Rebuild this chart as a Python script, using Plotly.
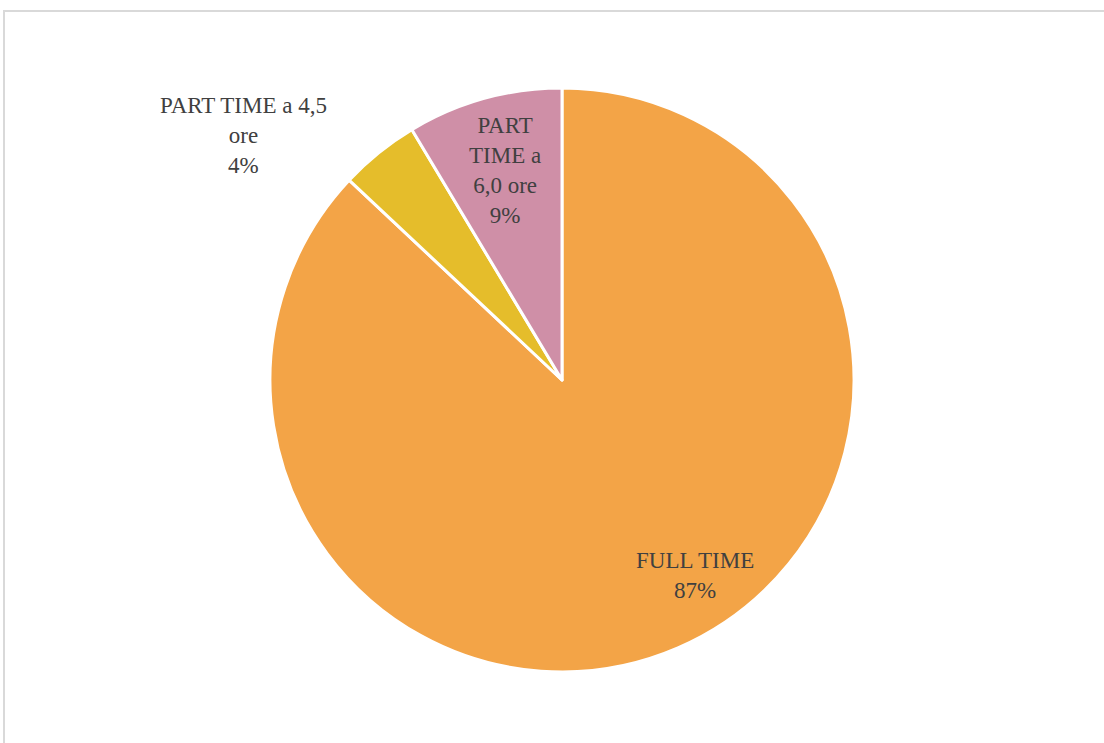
import plotly.graph_objects as go

labels = ["FULL TIME", "PART TIME a 4,5 ore", "PART TIME a 6,0 ore"]
values = [87.0, 4.4, 8.6]
label_text = ["FULL TIME<br>87%", "PART TIME a 4,5<br>ore<br>4%", "PART<br>TIME a<br>6,0 ore<br>9%"]
colors = ["#F3A447", "#E5BD2B", "#CF8FA7"]

W, H = 1104, 743
cx, cy, r = 562, 380, 292

fig = go.Figure(go.Pie(
    labels=labels, values=values, sort=False, direction="clockwise", rotation=0,
    marker=dict(colors=colors, line=dict(color="white", width=3)),
    textinfo="none", hoverinfo="label+percent", showlegend=False,
    domain=dict(x=[(cx - r) / W, (cx + r) / W], y=[1 - (cy + r) / H, 1 - (cy - r) / H]),
))

label_pos = [(695, 575), (243, 135), (505, 170)]
for txt, (x, y) in zip(label_text, label_pos):
    fig.add_annotation(x=x / W, y=1 - y / H, xref="paper", yref="paper", text=txt,
                       showarrow=False, xanchor="center", yanchor="middle",
                       font=dict(family="Liberation Serif", size=23, color="#404040"))

fig.add_shape(type="rect", xref="paper", yref="paper",
              x0=4 / W, x1=1.02, y0=-0.02, y1=1 - 11 / H,
              line=dict(color="#D9D9D9", width=2), fillcolor="rgba(0,0,0,0)")

fig.update_layout(width=W, height=H, margin=dict(l=0, r=0, t=0, b=0),
                  paper_bgcolor="white", plot_bgcolor="white")
fig.write_html("out.html", config={"displayModeBar": False},
               post_script="document.body.style.margin='0px';document.body.style.overflow='hidden';")
